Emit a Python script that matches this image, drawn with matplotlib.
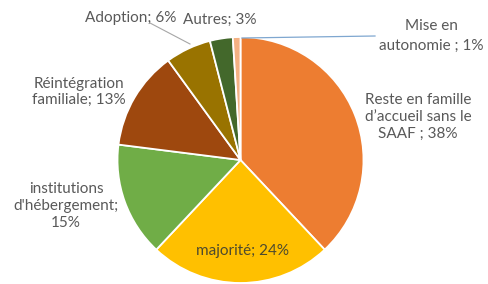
import matplotlib
matplotlib.use("Agg")
import matplotlib.pyplot as plt

# donnees (ordre horaire depuis midi)
valeurs = [38, 24, 15, 13, 6, 3, 1]
etiquettes = ["Reste en famille\nd\u2019accueil sans le\nSAAF ; 38%", "majorité; 24%",
              "institutions\nd'hébergement;\n15%", "Réintégration\nfamiliale; 13%",
              "Adoption; 6%", "Autres; 3%", "Mise en\nautonomie ; 1%"]
couleurs = ["#ED7D31", "#FFC000", "#70AD47", "#9E480E", "#997300", "#43682B", "#F4B183"]

W, H = 489, 284
fig = plt.figure(figsize=(W / 100, H / 100), dpi=100)
ax = fig.add_axes([0, 0, 1, 1])

cx, cy, r = 240.5, 160, 123
wedges, _ = ax.pie(valeurs, colors=couleurs, startangle=90, counterclock=False,
                   center=(cx, cy), radius=r,
                   wedgeprops=dict(edgecolor="white", linewidth=1.3))
# axe y inverse: la tarte est retournee, on remet le sens horaire
for w in wedges:
    t1, t2 = w.theta1, w.theta2
    w.set_theta1(-t2)
    w.set_theta2(-t1)
ax.set_xlim(0, W)
ax.set_ylim(H, 0)
ax.set_aspect("equal")
ax.axis("off")

police = ["Lato", "DejaVu Sans"]
gris = "#595959"
pos = [(418, 117, 1.3), (242, 251, 1.2), (66, 206, 1.3), (79, 92, 1.1),
       (131, 18, 1.2), (220, 20, 1.2), (431, 36, 1.5)]
for i, ((x, y, ls), txt) in enumerate(zip(pos, etiquettes)):
    c = "#4D4A2E" if i == 1 else gris
    ax.text(x, y, txt, ha="center", va="center", fontsize=11, color=c,
            family=police, linespacing=ls)

# lignes de rappel
ax.plot([150, 190], [23, 44], color="#A6A6A6", linewidth=0.8)
ax.plot([242, 375], [38, 36], color="#7FA7D0", linewidth=0.9)

fig.savefig("out.png", dpi=100)
